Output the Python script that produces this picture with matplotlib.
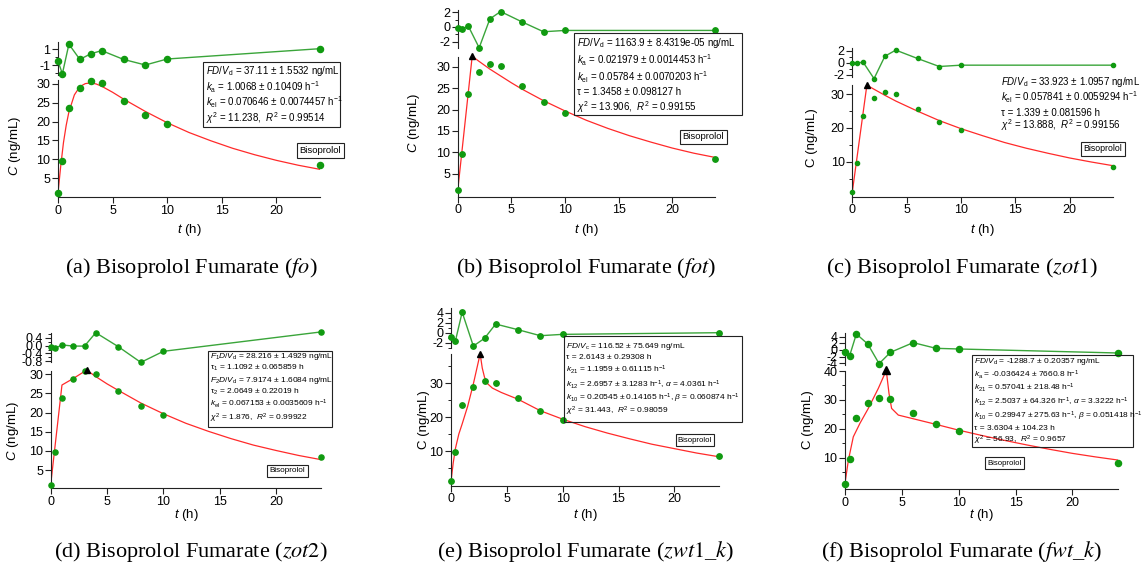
import matplotlib
matplotlib.use('Agg')
import matplotlib.pyplot as plt
from matplotlib.patches import Rectangle

plt.rcParams['font.family'] = ['Liberation Sans', 'DejaVu Sans']
plt.rcParams['mathtext.fontset'] = 'custom'
plt.rcParams['mathtext.rm'] = 'Liberation Sans'
plt.rcParams['mathtext.it'] = 'Liberation Sans:italic'
plt.rcParams['mathtext.bf'] = 'Liberation Sans:bold'
plt.rcParams['axes.unicode_minus'] = False

# ---------------- data ----------------
t_obs = [0, 0.4, 1, 2, 3, 4, 6, 8, 10, 24]
c_obs = [1.1, 9.6, 23.7, 28.8, 30.8, 30.2, 25.6, 21.7, 19.3, 8.4]

res_a = [-0.5, -2.1, 1.6, -0.3, 0.4, 0.8, -0.3, -1.0, -0.25, 1.04]
res_b = [-0.14, -0.24, 0.09, -2.83, 1.1, 2.1, 0.69, -0.65, -0.47, -0.47]
res_c = [0.0, 0.0, 0.1, -2.6, 1.1, 2.1, 0.72, -0.6, -0.38, -0.38]
res_d = [-0.08, -0.13, 0.04, -0.02, -0.02, 0.67, -0.05, -0.86, -0.29, 0.71]
res_e = [-0.93, -1.6, 4.1, -2.67, -1.13, 1.73, 0.6, -0.6, -0.33, 0.0]
res_f = [-0.7, -1.8, 4.8, 1.8, -4.1, -0.7, 2.2, 0.5, 0.3, -0.9]

fit_a_t = [0, 0.25, 0.5, 0.75, 1, 1.5, 2, 2.5, 3, 3.5, 4, 5, 6, 8, 10, 12, 14, 16, 18, 20, 22, 24]
fit_a_c = [1.0, 8.2, 14.4, 19.0, 22.6, 27.1, 29.3, 30.1, 30.3, 30.0, 29.4, 27.8, 26.0, 22.7, 19.7, 17.1, 14.9, 12.9, 11.2, 9.7, 8.4, 7.3]
fit_b_t = [0, 1.35, 2, 3, 4, 5, 6, 8, 10, 12, 14, 16, 18, 20, 22, 24]
fit_b_c = [1.0, 32.5, 31.3, 29.5, 27.9, 26.3, 24.8, 22.1, 19.7, 17.5, 15.6, 13.9, 12.4, 11.0, 9.8, 8.8]
fit_c_t = [0, 1.34, 2, 3, 4, 5, 6, 8, 10, 12, 14, 16, 18, 20, 22, 24]
fit_c_c = [1.0, 32.7, 31.5, 29.7, 28.0, 26.5, 25.0, 22.2, 19.8, 17.7, 15.7, 14.0, 12.5, 11.1, 9.9, 8.8]
fit_d_t = [0, 1.0, 2.0, 3.19, 4, 5, 6, 8, 10, 12, 14, 16, 18, 20, 22, 24]
fit_d_c = [1.2, 27.2, 28.9, 31.1, 29.4, 27.5, 25.8, 22.5, 19.7, 17.2, 15.1, 13.2, 11.5, 10.1, 8.8, 7.7]
fit_e_t = [0, 0.2, 0.4, 0.7, 1.0, 1.5, 2.0, 2.61, 2.8, 3.0, 3.3, 3.7, 4.5, 6, 8, 10, 12, 14, 16, 18, 20, 22, 24]
fit_e_c = [1.0, 6.5, 10.8, 15.0, 18.0, 23.3, 29.8, 38.7, 34.5, 31.8, 29.8, 28.6, 27.3, 25.3, 21.9, 19.4, 17.2, 15.3, 13.6, 12.0, 10.7, 9.4, 8.3]
fit_f_t = [0, 0.3, 0.73, 1.32, 2.05, 2.93, 3.63, 3.87, 4.1, 4.69, 6.45, 7.9, 10, 12, 14, 16, 18, 20, 22, 24]
fit_f_c = [1.3, 9.3, 17.3, 22.0, 27.1, 34.0, 40.2, 32.3, 27.1, 24.8, 23.1, 21.7, 19.6, 17.8, 16.1, 14.5, 13.0, 11.6, 10.4, 9.3]

peak_b = (1.35, 32.5)
peak_c = (1.34, 32.7)
peak_d = (3.19, 31.1)
peak_e = (2.61, 38.7)
peak_f = (3.63, 40.2)

x_ticks = [0, 5, 10, 15, 20]

params_a = [r"$FD/V_\mathrm{d}$ = 37.11 ± 1.5532 ng/mL",
            r"$k_\mathrm{a}$ = 1.0068 ± 0.10409 h$^{-1}$",
            r"$k_\mathrm{el}$ = 0.070646 ± 0.0074457 h$^{-1}$",
            r"$\chi^2$ = 11.238,  $R^2$ = 0.99514"]
params_b = [r"$FD/V_\mathrm{d}$ = 1163.9 ± 8.4319e-05 ng/mL",
            r"$k_\mathrm{a}$ = 0.021979 ± 0.0014453 h$^{-1}$",
            r"$k_\mathrm{el}$ = 0.05784 ± 0.0070203 h$^{-1}$",
            r"τ = 1.3458 ± 0.098127 h",
            r"$\chi^2$ = 13.906,  $R^2$ = 0.99155"]
params_c = [r"$FD/V_\mathrm{d}$ = 33.923 ± 1.0957 ng/mL",
            r"$k_\mathrm{el}$ = 0.057841 ± 0.0059294 h$^{-1}$",
            r"τ = 1.339 ± 0.081596 h",
            r"$\chi^2$ = 13.888,  $R^2$ = 0.99156"]
params_d = [r"$F_1D/V_\mathrm{d}$ = 28.216 ± 1.4929 ng/mL",
            r"τ$_1$ = 1.1092 ± 0.065859 h",
            r"$F_2D/V_\mathrm{d}$ = 7.9174 ± 1.6084 ng/mL",
            r"τ$_2$ = 2.0649 ± 0.22019 h",
            r"$k_\mathrm{el}$ = 0.067153 ± 0.0035609 h$^{-1}$",
            r"$\chi^2$ = 1.876,  $R^2$ = 0.99922"]
params_e = [r"$FD/V_\mathrm{c}$ = 116.52 ± 75.649 ng/mL",
            r"τ = 2.6143 ± 0.29308 h",
            r"$k_{21}$ = 1.1959 ± 0.61115 h$^{-1}$",
            r"$k_{12}$ = 2.6957 ± 3.1283 h$^{-1}$, $\alpha$ = 4.0361 h$^{-1}$",
            r"$k_{10}$ = 0.20545 ± 0.14165 h$^{-1}$, $\beta$ = 0.060874 h$^{-1}$",
            r"$\chi^2$ = 31.443,  $R^2$ = 0.98059"]
params_f = [r"$FD/V_\mathrm{d}$ = -1288.7 ± 0.20357 ng/mL",
            r"$k_\mathrm{a}$ = -0.036424 ± 7660.8 h$^{-1}$",
            r"$k_{21}$ = 0.57041 ± 218.48 h$^{-1}$",
            r"$k_{12}$ = 2.5037 ± 64.326 h$^{-1}$, $\alpha$ = 3.3222 h$^{-1}$",
            r"$k_{10}$ = 0.29947 ± 275.63 h$^{-1}$, $\beta$ = 0.051418 h$^{-1}$",
            r"τ = 3.6304 ± 104.23 h",
            r"$\chi^2$ = 56.93,  $R^2$ = 0.9657"]

captions = [r"(a) Bisoprolol Fumarate ($fo$)",
            r"(b) Bisoprolol Fumarate ($fot$)",
            r"(c) Bisoprolol Fumarate ($zot1$)",
            r"(d) Bisoprolol Fumarate ($zot2$)",
            r"(e) Bisoprolol Fumarate ($zwt1$_$k$)",
            r"(f) Bisoprolol Fumarate ($fwt$_$k$)"]

drug = "Bisoprolol"

# ---------------- layout ----------------
W, H = 1142, 567
fig = plt.figure(figsize=(W / 100, H / 100), dpi=100)

def frac_rect(x0, x1, ytop, ybot):
    return [x0 / W, 1 - ybot / H, (x1 - x0) / W, (ybot - ytop) / H]

def fx(x):
    return x / W

def fy(y):
    return 1 - y / H

GREEN = '#109a10'
GREEN_L = '#3aa53a'
RED = '#ff2a2a'
TICK_FS = 9
LAB_FS = 9.5

panels = [
    dict(res=res_a, ft=fit_a_t, fc=fit_a_c, peak=None, params=params_a,
         x0=58, x1=320, mtop=80, mbot=197, mylim=(-0.05, 31.06),
         mmaj=[5, 10, 15, 20, 25, 30], mmin=[],
         rtop=42, rbot=75, rylim=(-2.25, 1.875), rmaj=[1, -1], rmin=[0, -2], rfmt='{:g}',
         ylab=r"$C$ (ng/mL)", ylx=15, yly=146, xly=230,
         box=(203, 62, 340, 127), tx=206, ty=[71, 87, 102.5, 118.5], tfs=7,
         bis=(320.5, 150.5), bfs=6.8, ms=4.4, cap=(191, 268)),
    dict(res=res_b, ft=fit_b_t, fc=fit_b_c, peak=peak_b, params=params_b,
         x0=457.7, x1=715.2, mtop=56.7, mbot=196.7, mylim=(-0.4, 32.41),
         mmaj=[5, 10, 15, 20, 25, 30], mmin=[],
         rtop=10, rbot=48.3, rylim=(-2.9, 2.31), rmaj=[2, 0, -2], rmin=[1, -1], rfmt='{:g}',
         ylab=r"$C$ (ng/mL)", ylx=414, yly=123, xly=230,
         box=(574, 33, 742, 115), tx=577, ty=[43, 60, 77, 92, 107], tfs=7,
         bis=(703.5, 137), bfs=6.8, ms=3.9, cap=(586, 268)),
    dict(res=res_c, ft=fit_c_t, fc=fit_c_c, peak=peak_c, params=params_c,
         x0=852.3, x1=1113.2, mtop=85, mbot=196.7, mylim=(-0.39, 32.76),
         mmaj=[10, 20, 30], mmin=[5, 15, 25],
         rtop=48.3, rbot=77.3, rylim=(-2.38, 2.4), rmaj=[2, 0, -2], rmin=[1, -1], rfmt='{:g}',
         ylab="C (ng/mL)", ylx=812, yly=138, xly=230,
         box=None, tx=1001, ty=[81.7, 97.3, 112.7, 125], tfs=7,
         bis=(1102.5, 149), bfs=6.3, ms=3.0, cap=(962, 268)),
    dict(res=res_d, ft=fit_d_t, fc=fit_d_c, peak=peak_d, params=params_d,
         x0=50.7, x1=321.1, mtop=371, mbot=488.3, mylim=(0.22, 30.86),
         mmaj=[5, 10, 15, 20, 25, 30], mmin=[],
         rtop=332.7, rbot=362.3, rylim=(-0.856, 0.67), rmaj=[0.4, 0.0, -0.4, -0.8],
         rmin=[0.6, 0.2, -0.2, -0.6], rfmt='{:.1f}',
         ylab=r"$C$ (ng/mL)", ylx=13, yly=431, xly=515,
         box=(208, 350.7, 332, 426.7), tx=210, ty=[357, 368, 380, 391.7, 404, 418], tfs=6,
         bis=(287.5, 471), bfs=5.9, ms=3.7, cap=(191, 552)),
    dict(res=res_e, ft=fit_e_t, fc=fit_e_c, peak=peak_e, params=params_e,
         x0=451, x1=719, mtop=354, mbot=485.7, mylim=(-0.25, 38.66),
         mmaj=[10, 20, 30], mmin=[5, 15, 25, 35],
         rtop=308.3, rbot=348.3, rylim=(-3.12, 4.88), rmaj=[4, 2, 0, -2], rmin=[3, 1, -1, -3], rfmt='{:g}',
         ylab="C (ng/mL)", ylx=424, yly=420, xly=515,
         box=(564, 335.7, 742, 421.7), tx=566, ty=[346, 357.7, 370, 384.3, 398.3, 411.7], tfs=6,
         bis=(695, 440), bfs=5.6, ms=3.9, cap=(586, 552)),
    dict(res=res_f, ft=fit_f_t, fc=fit_f_c, peak=peak_f, params=params_f,
         x0=845, x1=1117.8, mtop=371, mbot=489, mylim=(-0.69, 40.0),
         mmaj=[10, 20, 30, 40], mmin=[5, 15, 25, 35],
         rtop=333.3, rbot=365, rylim=(-4.5, 5.0), rmaj=[4, 2, 0, -2, -4], rmin=[], rfmt='{:g}',
         ylab="C (ng/mL)", ylx=808, yly=420, xly=515,
         box=(972.3, 355, 1133.3, 446.7), tx=974, ty=[361.7, 375, 387.7, 401.7, 416, 429, 440], tfs=6,
         bis=(1004.5, 463.3), bfs=5.6, ms=4.4, cap=(962, 552)),
]


def style_axis(ax):
    for s in ('top', 'right'):
        ax.spines[s].set_visible(False)
    for s in ('left', 'bottom'):
        ax.spines[s].set_linewidth(0.8)
        ax.spines[s].set_color('#222222')
    ax.tick_params(which='major', direction='out', length=4, width=0.8,
                   labelsize=TICK_FS, pad=1.5, colors='#222222', labelcolor='black')
    ax.tick_params(which='minor', direction='out', length=2.5, width=0.7, colors='#222222')


for i, (p, cap) in enumerate(zip(panels, captions)):
    # main axes
    ax = fig.add_axes(frac_rect(p['x0'], p['x1'], p['mtop'], p['mbot']))
    style_axis(ax)
    ax.set_xlim(0, 24)
    ax.set_ylim(*p['mylim'])
    ax.set_xticks(x_ticks)
    ax.set_yticks(p['mmaj'])
    ax.set_yticks(p['mmin'], minor=True)
    ax.plot(p['ft'], p['fc'], color=RED, lw=0.9, zorder=2)
    ax.plot(t_obs, c_obs, 'o', color=GREEN, ms=p['ms'], mec=GREEN, zorder=3, clip_on=False)
    if p['peak'] is not None:
        ax.plot([p['peak'][0]], [p['peak'][1]], '^', color='black', ms=5.5 if i == 5 else 4,
                zorder=4, clip_on=False)
    ax.set_xlabel(r"$t$ (h)", fontsize=LAB_FS)
    ax.xaxis.set_label_coords(0.5, (p['mbot'] - p['xly']) / (p['mbot'] - p['mtop']))
    ax.xaxis.label.set_va('center')
    ax.set_ylabel(p['ylab'], fontsize=LAB_FS, va='center')
    ax.yaxis.set_label_coords((p['ylx'] - p['x0']) / (p['x1'] - p['x0']),
                              (p['mbot'] - p['yly']) / (p['mbot'] - p['mtop']))

    # residual axes
    rx = fig.add_axes(frac_rect(p['x0'], p['x1'], p['rtop'], p['rbot']))
    style_axis(rx)
    rx.spines['bottom'].set_visible(False)
    rx.set_xticks([])
    rx.set_xlim(0, 24)
    rx.set_ylim(*p['rylim'])
    rx.set_yticks(p['rmaj'])
    rx.set_yticklabels([p['rfmt'].format(v) for v in p['rmaj']])
    rx.set_yticks(p['rmin'], minor=True)
    rx.plot(t_obs, p['res'], '-', color=GREEN_L, lw=1.0, zorder=2, clip_on=False)
    rx.plot(t_obs, p['res'], 'o', color=GREEN, ms=p['ms'], zorder=3, clip_on=False)

    # parameter text (box)
    if p['box'] is not None:
        bx0, by0, bx1, by1 = p['box']
        fig.add_artist(Rectangle((fx(bx0), fy(by1)), fx(bx1) - fx(bx0), fy(by0) - fy(by1),
                                 transform=fig.transFigure, fill=False, ec='#222222', lw=0.8))
    for line, yy in zip(p['params'], p['ty']):
        fig.text(fx(p['tx']), fy(yy), line, fontsize=p['tfs'], ha='left', va='center')

    # drug label
    fig.text(fx(p['bis'][0]), fy(p['bis'][1]), drug, fontsize=p['bfs'], ha='center', va='center',
             bbox=dict(boxstyle='square,pad=0.3', fc='white', ec='#222222', lw=0.8))

    # caption
    fig.text(fx(p['cap'][0]), fy(p['cap'][1]), cap, fontsize=16,
             family='Liberation Serif', math_fontfamily='stix', ha='center', va='center')

fig.savefig('out.png', dpi=100)
